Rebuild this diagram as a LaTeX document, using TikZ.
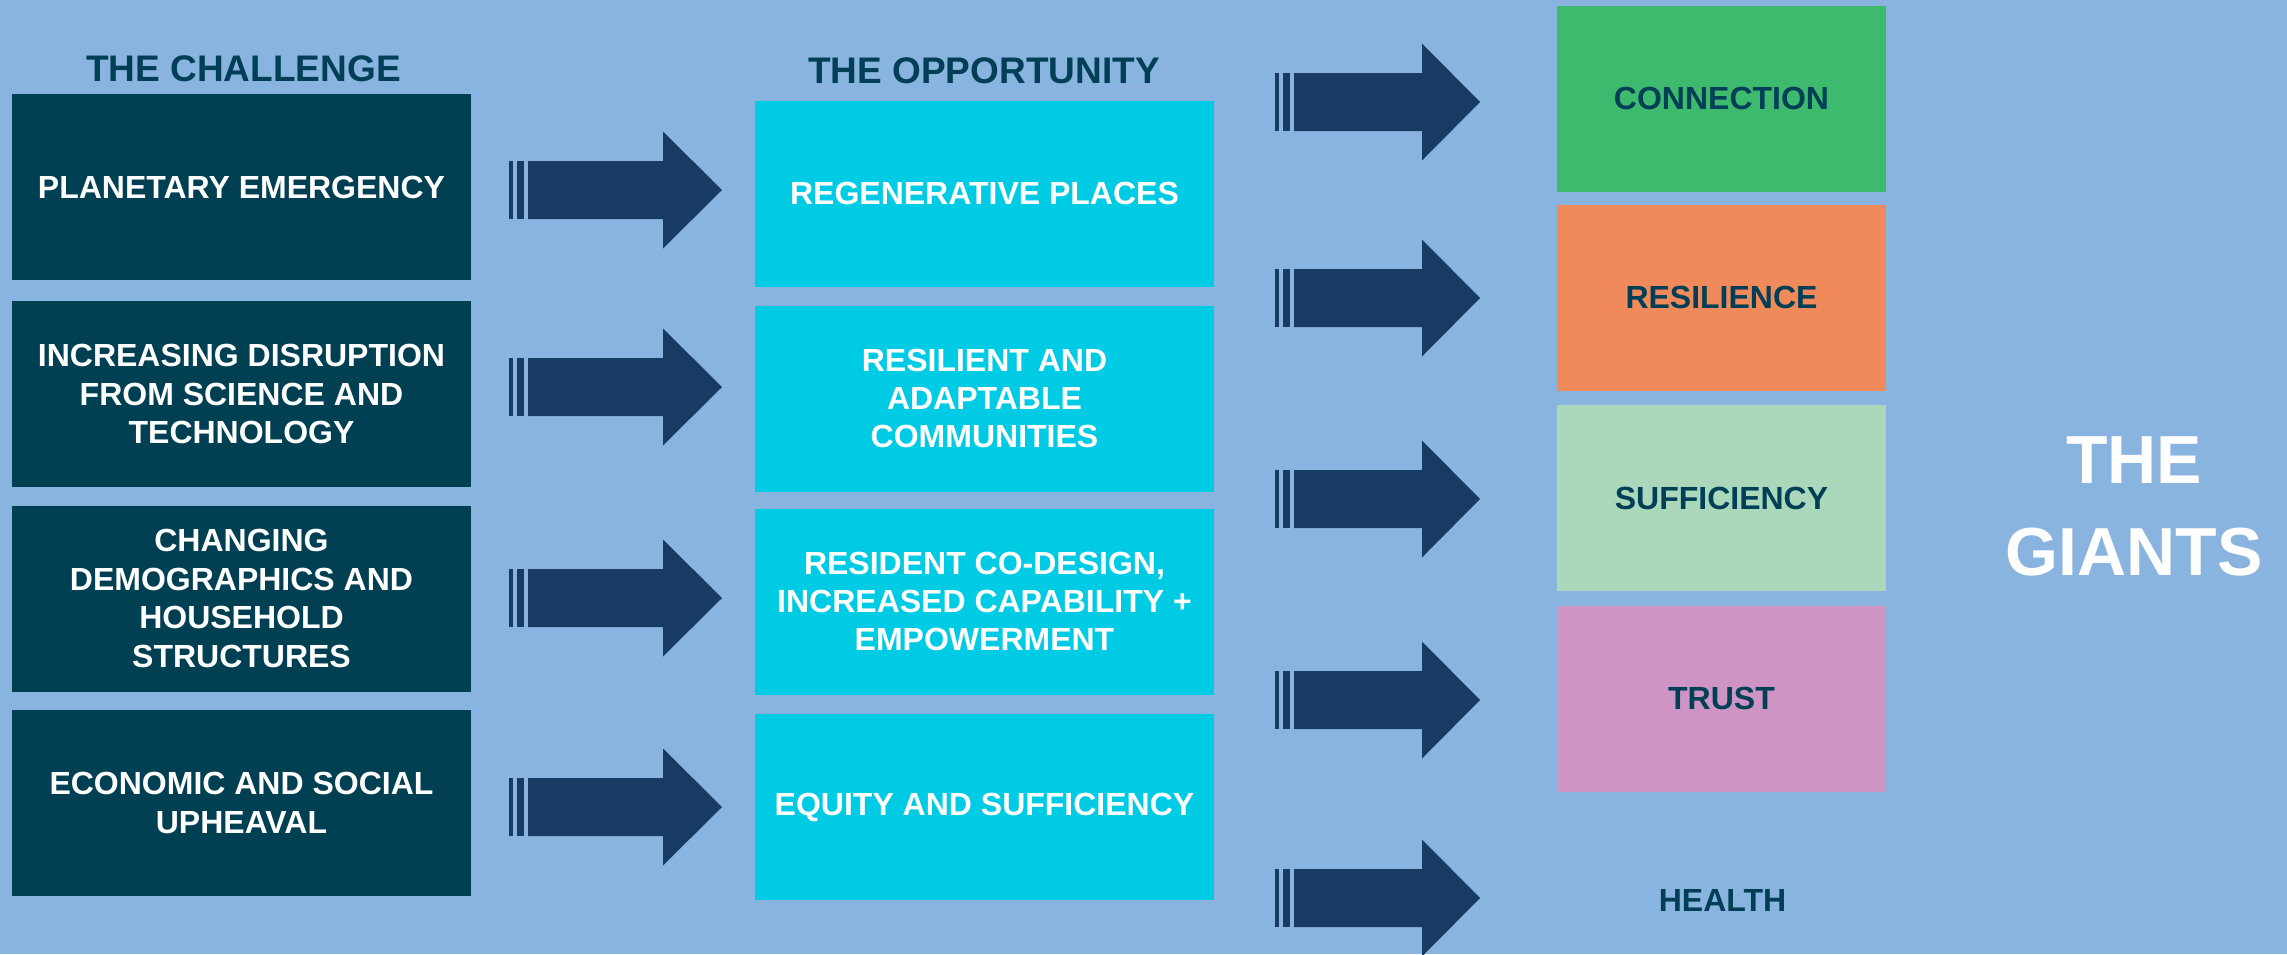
\documentclass[tikz,border=0pt]{standalone}
\usepackage{fontspec}
\setmainfont{Liberation Sans}

\definecolor{bgblue}{HTML}{8AB4E0}
\definecolor{deepteal}{HTML}{004052}
\definecolor{inkteal}{HTML}{003F55}
\definecolor{arrowblue}{HTML}{173B62}
\definecolor{brightcyan}{HTML}{00CBE5}
\definecolor{giantgreen}{HTML}{3EBA6F}
\definecolor{giantorange}{HTML}{F08A5B}
\definecolor{giantmint}{HTML}{ABD8BA}
\definecolor{giantpink}{HTML}{CE95C4}

\newcommand{\boxfont}{\bfseries\fontsize{32}{38.4}\selectfont}
\newcommand{\headfont}{\bfseries\fontsize{37}{44}\selectfont}

\tikzset{
  challenge/.style={fill=deepteal, text=white, font=\boxfont, align=center,
    minimum width=459pt, minimum height=186pt, inner sep=0pt},
  opportunity/.style={challenge, fill=brightcyan},
  giant/.style={challenge, text=inkteal, minimum width=329pt},
  heading/.style={text=inkteal, font=\headfont, inner sep=0pt, anchor=base},
  bigarrow/.style={fill=arrowblue}
}

\begin{document}
\begin{tikzpicture}[x=1pt, y=-1pt]
  \useasboundingbox (0,0) rectangle (2287,954);
  \clip (0,0) rectangle (2287,954);
  \fill [bgblue] (0,0) rectangle (2287,954);

  % column headings
  \node [heading] (hchall) at (243.5,81) {THE CHALLENGE};
  \node [heading] (hopp) at (984,83) {THE OPPORTUNITY};

  % the challenge
  \node [challenge] (c1) at (241.5,187) {PLANETARY EMERGENCY};
  \node [challenge] (c2) at (241.5,394) {INCREASING DISRUPTION\\FROM SCIENCE AND\\TECHNOLOGY};
  \node [challenge] (c3) at (241.5,598.5) {CHANGING\\DEMOGRAPHICS AND\\HOUSEHOLD\\STRUCTURES};
  \node [challenge] (c4) at (241.5,803) {ECONOMIC AND SOCIAL\\UPHEAVAL};

  % the opportunity
  \node [opportunity] (o1) at (984.5,193.5) {REGENERATIVE PLACES};
  \node [opportunity] (o2) at (984.5,398.5) {RESILIENT AND\\ADAPTABLE\\COMMUNITIES};
  \node [opportunity] (o3) at (984.5,601.5) {RESIDENT CO-DESIGN,\\INCREASED CAPABILITY +\\EMPOWERMENT};
  \node [opportunity] (o4) at (984.5,807) {EQUITY AND SUFFICIENCY};

  % the giants
  \node [giant, fill=giantgreen] (g1) at (1721.5,98.5) {CONNECTION};
  \node [giant, fill=giantorange] (g2) at (1721.5,297.5) {RESILIENCE};
  \node [giant, fill=giantmint] (g3) at (1721.5,498) {SUFFICIENCY};
  \node [giant, fill=giantpink] (g4) at (1721.5,698.5) {TRUST};
  \node [text=inkteal, font=\boxfont, inner sep=0pt] (g5) at (1722.5,900.5) {HEALTH};

  \node [text=white, font=\bfseries\fontsize{68}{92}\selectfont, align=center,
    inner sep=0pt] (giants) at (2134,506) {THE\\GIANTS};

  % striped block arrows, challenge -> opportunity
  \foreach \y in {190,387,598,807} {
    \fill [bigarrow] (509,\y-29) rectangle (513,\y+29);
    \fill [bigarrow] (517,\y-29) rectangle (524,\y+29);
    \fill [bigarrow] (528,\y-29) -- (663,\y-29) -- (663,\y-58.5) -- (722,\y)
      -- (663,\y+58.5) -- (663,\y+29) -- (528,\y+29) -- cycle;
  }

  % striped block arrows, opportunity -> giants
  \foreach \y in {102,298,499,700,898} {
    \fill [bigarrow] (1275,\y-29) rectangle (1279,\y+29);
    \fill [bigarrow] (1283,\y-29) rectangle (1290,\y+29);
    \fill [bigarrow] (1294,\y-29) -- (1422,\y-29) -- (1422,\y-58.5) -- (1480,\y)
      -- (1422,\y+58.5) -- (1422,\y+29) -- (1294,\y+29) -- cycle;
  }
\end{tikzpicture}
\end{document}
